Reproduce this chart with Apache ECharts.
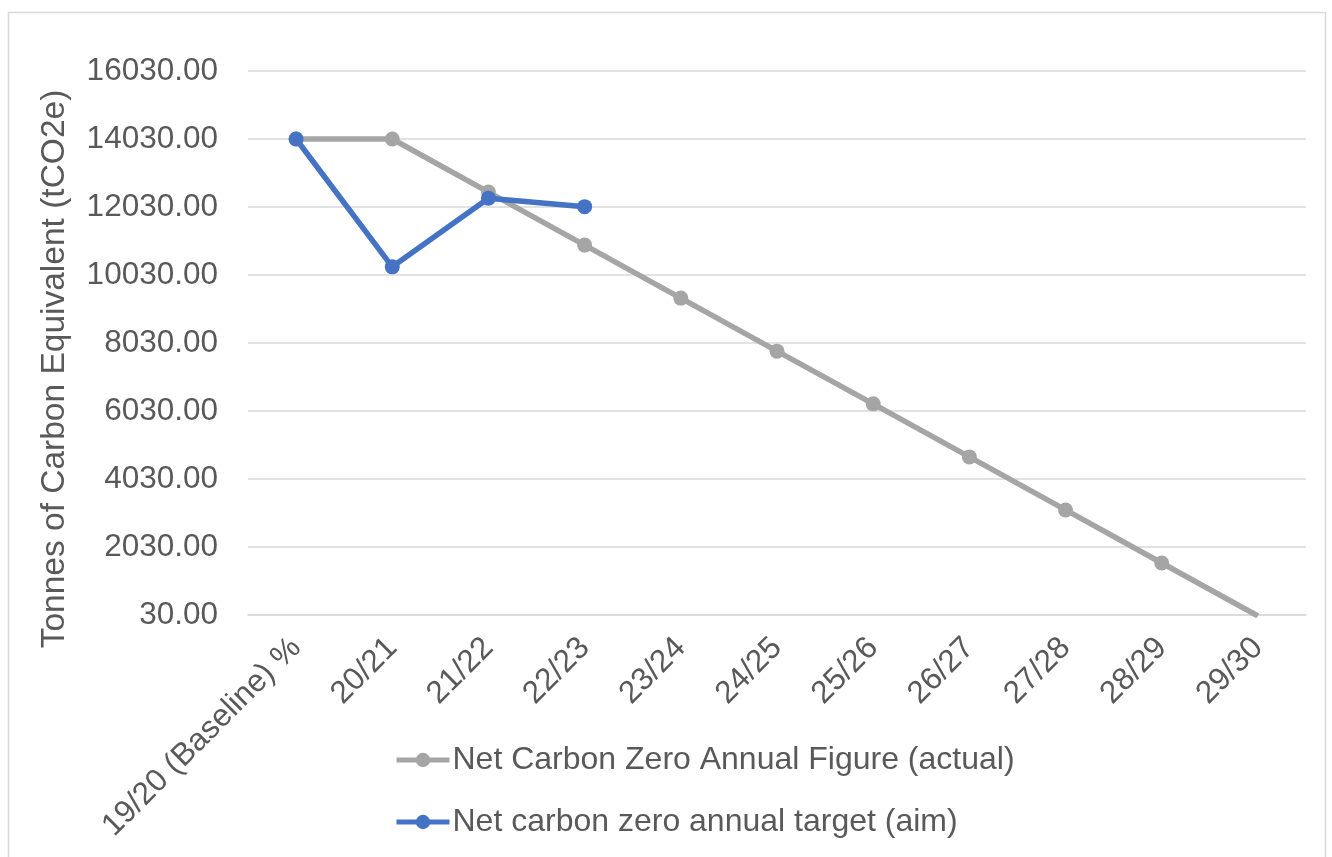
<!DOCTYPE html>
<html>
<head>
<meta charset="utf-8">
<script src="https://cdn.jsdelivr.net/npm/echarts@6/dist/echarts.min.js"></script>
<style>
html,body{margin:0;padding:0;background:#fff;}
#chart{width:1332px;height:857px;}
</style>
</head>
<body>
<div id="chart"></div>
<script>
var categories = ['19/20 (Baseline) %','20/21','21/22','22/23','23/24','24/25','25/26','26/27','27/28','28/29','29/30'];
var actualName = 'Net Carbon Zero Annual Figure (actual)';
var targetName = 'Net carbon zero annual target (aim)';
var actualValues = [14030, 14030, 12470, 10910, 9350, 7790, 6240, 4680, 3120, 1560, 0];
var targetValues = [14030, 10270, 12290, 12040];
var yTicks = {min: 30, max: 16030, interval: 2000};
var yTitle = 'Tonnes of Carbon Equivalent (tCO2e)';

var FONT = '"Liberation Sans", Arial, sans-serif';
var TXT = '#595959';
var chart = echarts.init(document.getElementById('chart'), null, {renderer: 'canvas'});
chart.setOption({
  animation: false,
  backgroundColor: '#ffffff',
  textStyle: {fontFamily: FONT},
  grid: {left: 248, right: 26, top: 71, bottom: 242, containLabel: false},
  graphic: [
    {type: 'rect', shape: {x: 8.5, y: 12.5, width: 1317, height: 900}, style: {fill: 'none', stroke: '#d9d9d9', lineWidth: 1.5}, silent: true},
    {type: 'text', x: 55, y: 369, rotation: Math.PI / 2,
     style: {text: yTitle, fill: TXT, font: '33.5px ' + FONT, align: 'center', verticalAlign: 'middle'}}
  ],
  legend: {
    orient: 'vertical',
    left: 389, top: 739,
    itemWidth: 53, itemHeight: 18, itemGap: 30,
    lineStyle: {width: 5},
    textStyle: {fontSize: 32, color: TXT, fontFamily: FONT, padding: [0, 0, 0, -2]},
    data: [actualName, targetName]
  },
  xAxis: {
    type: 'category',
    data: categories,
    boundaryGap: true,
    axisLine: {show: true, lineStyle: {color: '#d9d9d9', width: 1.5}},
    axisTick: {show: false},
    axisLabel: {rotate: 45, fontSize: 31.5, color: TXT, fontFamily: FONT, margin: 28, interval: 0}
  },
  yAxis: {
    type: 'value',
    min: yTicks.min, max: yTicks.max, interval: yTicks.interval,
    axisLine: {show: false},
    axisTick: {show: false},
    splitLine: {lineStyle: {color: '#d9d9d9', width: 1.5}},
    axisLabel: {fontSize: 31.5, color: TXT, fontFamily: FONT, margin: 30,
      formatter: function (v) { return v.toFixed(2); }}
  },
  series: [
    {name: actualName, type: 'line', data: actualValues, symbol: 'circle', symbolSize: 15,
     clip: true,
     lineStyle: {color: '#A5A5A5', width: 5.5}, itemStyle: {color: '#A5A5A5'}},
    {name: targetName, type: 'line', data: targetValues, symbol: 'circle', symbolSize: 15,
     lineStyle: {color: '#4472C4', width: 5.5}, itemStyle: {color: '#4472C4'}}
  ]
});
</script>
</body>
</html>
